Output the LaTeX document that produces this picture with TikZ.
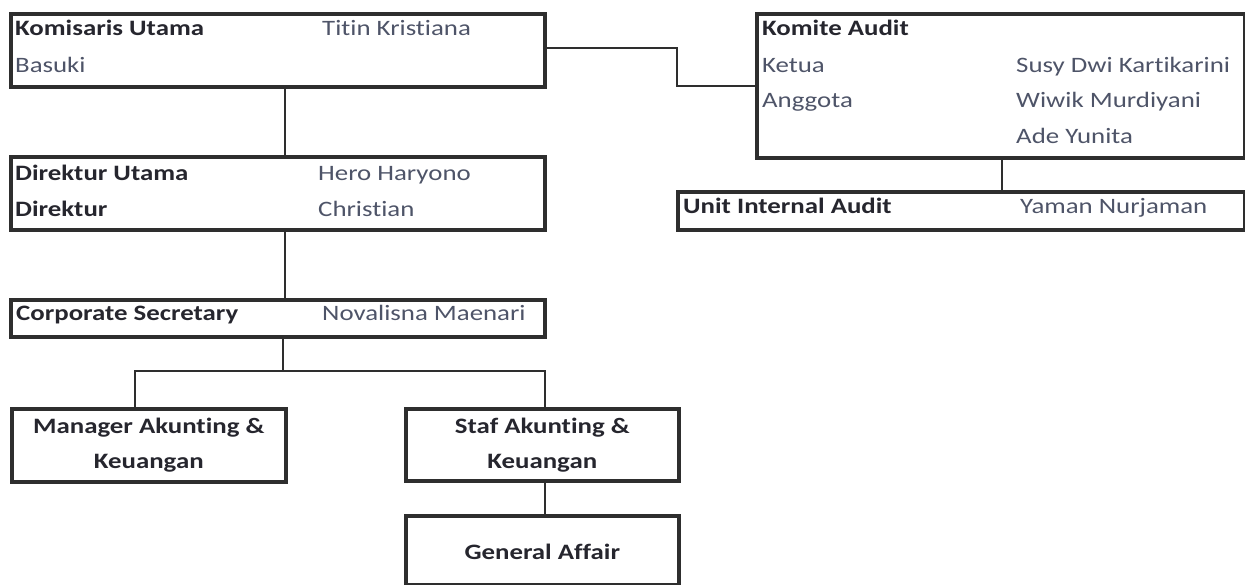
\documentclass[tikz,border=0pt]{standalone}
\usepackage{fontspec}
\setmainfont{Carlito}[FakeStretch=1.22, Ligatures=NoCommon]
\usetikzlibrary{calc}
\definecolor{lab}{HTML}{26262E}
\definecolor{nam}{HTML}{4E5468}
\definecolor{edge}{HTML}{2E2E2E}
\tikzset{
  box/.style={draw=edge, line width=3.6pt, rectangle, anchor=north west, inner sep=0pt},
  lbl/.style={anchor=base west, inner sep=0pt, text=lab, font=\fontsize{22}{26}\selectfont\bfseries},
  nme/.style={anchor=base west, inner sep=0pt, text=nam, font=\fontsize{22}{26}\selectfont},
  ctr/.style={inner sep=0pt, text=lab, align=center, font=\fontsize{22}{35}\selectfont\bfseries},
  conn/.style={draw=edge, line width=2.4pt}
}
\begin{document}
\begin{tikzpicture}[x=1pt,y=-1pt]
\useasboundingbox (0,0) rectangle (1245,585);
% boxes
\node[box, minimum width=534pt, minimum height=73pt] (kom) at (9,12) {};
\node[box, minimum width=534pt, minimum height=73pt] (dir) at (9,155) {};
\node[box, minimum width=534pt, minimum height=37pt] (cs) at (9,298) {};
\node[box, minimum width=274pt, minimum height=73pt] (man) at (10,407) {};
\node[box, minimum width=273pt, minimum height=72pt] (staf) at (404,407) {};
\node[box, minimum width=273pt, minimum height=69pt] (ga) at (404,514) {};
\node[box, minimum width=488pt, minimum height=144pt] (ka) at (755,12) {};
\node[box, minimum width=567pt, minimum height=38pt] (uia) at (676,190) {};
% texts
\node[lbl] (t1) at (15,36) {Komisaris Utama};
\node[nme] (t2) at (322,36) {Titin Kristiana};
\node[nme] (t3) at (15,73) {Basuki};
\node[lbl] (t4) at (15,181) {Direktur Utama};
\node[nme] (t5) at (318,181) {Hero Haryono};
\node[lbl] (t6) at (15,217) {Direktur};
\node[nme] (t7) at (318,217) {Christian};
\node[lbl] (t8) at (16,321) {Corporate Secretary};
\node[nme] (t9) at (322,321) {Novalisna Maenari};
\node[ctr] (t10) at ($(man.center)+(0,0)$) {Manager Akunting \&\\Keuangan};
\node[ctr] (t11) at ($(staf.center)+(0,0)$) {Staf Akunting \&\\Keuangan};
\node[ctr] (t12) at ($(ga.center)+(0,2)$) {General Affair};
\node[lbl] (t13) at (762,36) {Komite Audit};
\node[nme] (t14) at (762,73) {Ketua};
\node[nme] (t15) at (762,108) {Anggota};
\node[nme] (t16) at (1016,73) {Susy Dwi Kartikarini};
\node[nme] (t17) at (1016,108) {Wiwik Murdiyani};
\node[nme] (t18) at (1016,144) {Ade Yunita};
\node[lbl] (t19) at (683,214) {Unit Internal Audit};
\node[nme] (t20) at (1020,214) {Yaman Nurjaman};
% connectors
\coordinate (jk) at (677,48);
\draw[conn] (kom.east |- jk) -- (jk) |- (ka.west);
\draw[conn] ([xshift=7pt]kom.south) -- ([xshift=7pt]dir.north);
\draw[conn] ([xshift=7pt]dir.south) -- ([xshift=7pt]cs.north);
\coordinate (j) at (283,371);
\draw[conn] (cs.south -| j) -- (j);
\draw[conn] ([xshift=-7pt]j) -| ([xshift=-14pt]man.north);
\draw[conn] ([xshift=-7pt]j) -| ([xshift=2.5pt]staf.north);
\draw[conn] ([xshift=2.5pt]staf.south) -- ([xshift=2.5pt]ga.north);
\draw[conn] ([xshift=1pt]ka.south) -- ([xshift=1pt]ka.south |- uia.north);
\end{tikzpicture}
\end{document}
